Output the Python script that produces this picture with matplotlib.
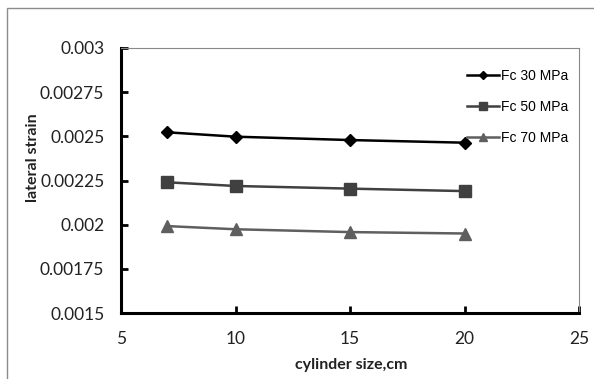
import matplotlib
matplotlib.use('Agg')
import matplotlib.pyplot as plt
from matplotlib.patches import Rectangle
from matplotlib.ticker import FixedLocator

sizes = [7, 10, 15, 20]
fc30 = [0.002523, 0.002498, 0.002479, 0.002464]
fc50 = [0.00224, 0.002219, 0.002204, 0.00219]
fc70 = [0.001992, 0.001974, 0.001958, 0.00195]
labels = ['Fc 30 MPa', 'Fc 50 MPa', 'Fc 70 MPa']
yticks = [0.0015, 0.00175, 0.002, 0.00225, 0.0025, 0.00275, 0.003]
ytick_labels = ['0.0015', '0.00175', '0.002', '0.00225', '0.0025', '0.00275', '0.003']
xticks = [5, 10, 15, 20, 25]

W, H = 594, 379
fig = plt.figure(figsize=(W / 100, H / 100), dpi=100)

# outer chart frame
fig.patches.append(Rectangle((7 / W, -0.1), 1.2, 1 - 8 / H + 0.1, transform=fig.transFigure,
                             fill=False, edgecolor='#8c8c8c', lw=1.0))

ax = fig.add_axes([121 / W, 1 - 313 / H, (579 - 121) / W, (313 - 48) / H])

ax.plot(sizes, fc30, color='black', lw=1.8, marker='D', ms=6.5, label=labels[0])
ax.plot(sizes, fc50, color='#404040', lw=1.8, marker='s', ms=8, label=labels[1])
ax.plot(sizes, fc70, color='#5f5f5f', lw=1.8, marker='^', ms=8, label=labels[2])

ax.set_xlim(5, 25)
ax.set_ylim(0.0015, 0.003)
ax.xaxis.set_major_locator(FixedLocator(xticks))
ax.set_yticks(yticks)
ax.set_yticklabels(ytick_labels)
ax.set_xticklabels([str(v) for v in xticks])

tick_font = 'Lato'
for t in ax.get_xticklabels() + ax.get_yticklabels():
    t.set_fontfamily(tick_font)
    t.set_fontsize(12.5)
    t.set_color('#222222')

ax.tick_params(direction='in', length=5, width=2, color='black')
ax.tick_params(axis='y', pad=12)
ax.tick_params(axis='x', pad=13)
for s in ['left', 'bottom']:
    ax.spines[s].set_linewidth(2.2)
    ax.spines[s].set_color('black')
for s in ['top', 'right']:
    ax.spines[s].set_linewidth(0.8)
    ax.spines[s].set_color('#888888')

fig.text(33 / W, 1 - 158 / H, 'lateral strain', rotation=90, ha='center', va='center',
         fontsize=11.5, fontweight='bold', family='Lato', color='#222222')
fig.text(351 / W, 1 - 365 / H, 'cylinder size,cm', ha='center', va='center',
         fontsize=11.5, fontweight='bold', family='Lato', color='#222222')

leg = ax.legend(loc='upper left', bbox_to_anchor=((461 - 121) / (579 - 121), 1 - (63 - 48) / 265),
                frameon=False, handlelength=2.3, handletextpad=0.15, labelspacing=1.25,
                borderaxespad=0, markerscale=0.7,
                prop={'family': 'Liberation Sans', 'size': 10})

fig.savefig('out.png', dpi=100)
